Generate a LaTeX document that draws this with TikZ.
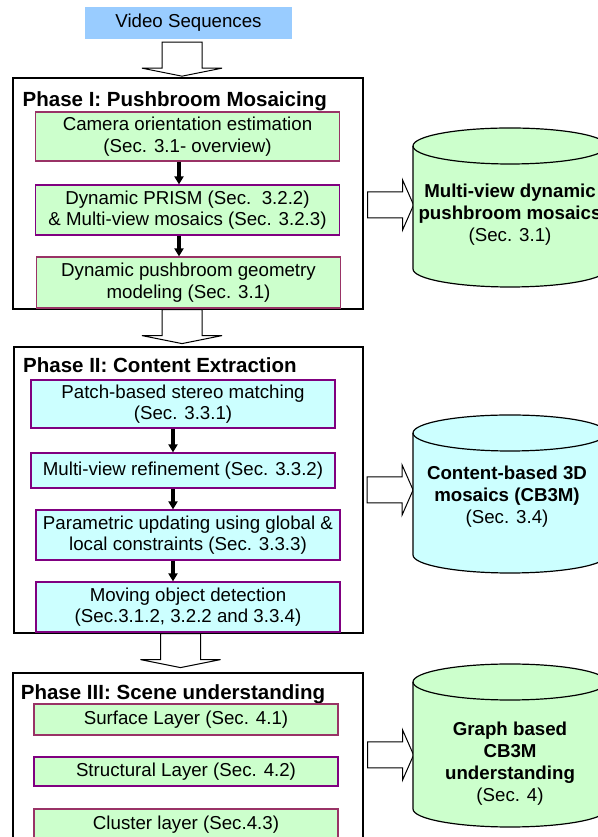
\documentclass[tikz,border=0pt]{standalone}
\usepackage{fontspec}
\setmainfont{Liberation Sans}
\usepackage{tikz}
\usetikzlibrary{arrows.meta,calc,positioning}
\definecolor{lightGreen}{HTML}{CCFFCC}
\definecolor{lightCyan}{HTML}{CCFFFF}
\definecolor{skyBlue}{HTML}{99CCFF}
\definecolor{plumEdge}{HTML}{993366}
\definecolor{purpleEdge}{HTML}{800080}

\begin{document}
\begin{tikzpicture}[x=1pt,y=1pt,
  stepbox/.style={draw, line width=1.2pt, minimum width=304pt, inner sep=0pt, align=center, font=\fontsize{18.7}{21.5}\selectfont},
  phasebox/.style={draw, line width=1.2pt, minimum width=350pt, inner sep=0pt},
  phasetitle/.style={anchor=base west, inner sep=0pt, font=\fontsize{20.5}{24}\selectfont\bfseries},
  dbtext/.style={align=center, font=\fontsize{18.7}{22}\selectfont},
  flow/.style={-{Triangle[width=9pt,length=8pt]}, line width=3.5pt},
  dnarrow/.pic={\filldraw[fill=white, line width=1pt] (-20,0) -- (-20,-26) -- (-40,-26) -- (0,-34) -- (40,-26) -- (20,-26) -- (20,0) -- cycle;},
  rtarrow/.pic={\filldraw[fill=white, line width=1pt] (0,-13) -- (35,-13) -- (35,-25) -- (46,0) -- (35,25) -- (35,13) -- (0,13) -- cycle;}]
\useasboundingbox[fill=white] (0,0) rectangle (597,837);

\node[fill=skyBlue, minimum width=207pt, minimum height=32pt, inner sep=0pt, font=\fontsize{18.7}{22}\selectfont] (video) at (188.5,814) {Video Sequences};

% Phase I
\node[phasebox, minimum height=231pt] (ph1) at (188,643.5) {};
\node[phasetitle] (t1) at (22.5,730.3) {Phase I: Pushbroom Mosaicing};
\node[stepbox, fill=lightGreen, draw=plumEdge, minimum height=49pt] (cam) at (187.5,700.5) {Camera orientation estimation\\(Sec. 3.1- overview)};
\node[stepbox, fill=lightGreen, draw=purpleEdge, minimum height=50pt] (prism) at (187.5,627) {Dynamic PRISM (Sec.~~3.2.2)\\\& Multi-view mosaics (Sec. 3.2.3)};
\node[stepbox, fill=lightGreen, draw=plumEdge, minimum height=51pt] (geom) at (188.5,554.5) {Dynamic pushbroom geometry\\modeling (Sec. 3.1)};
\draw[flow] ([xshift=-8.5pt]cam.south) -- ([xshift=-8.5pt]prism.north);
\draw[flow] ([xshift=-8.5pt]prism.south) -- ([xshift=-9.5pt]geom.north);

% Phase II
\node[phasebox, minimum width=349pt, minimum height=286pt] (ph2) at (188.5,347) {};
\node[phasetitle] (t2) at (23,464.7) {Phase II: Content Extraction};
\node[stepbox, fill=lightCyan, draw=purpleEdge, minimum height=48pt] (patch) at (183,433) {Patch-based stereo matching\\(Sec. 3.3.1)};
\node[stepbox, fill=lightCyan, draw=purpleEdge, minimum height=35pt] (refine) at (183,366.5) {Multi-view refinement (Sec. 3.3.2)};
\node[stepbox, fill=lightCyan, draw=purpleEdge, minimum height=50pt] (param) at (188,302) {Parametric updating using global \&\\local constraints (Sec. 3.3.3)};
\node[stepbox, fill=lightCyan, draw=purpleEdge, minimum height=50pt] (moving) at (188,230) {Moving object detection\\(Sec.3.1.2, 3.2.2 and 3.3.4)};
\draw[flow] ([xshift=-10pt]patch.south) -- ([xshift=-10pt]refine.north);
\draw[flow] ([xshift=-10pt]refine.south) -- ([xshift=-15pt]param.north);
\draw[flow] ([xshift=-15pt]param.south) -- ([xshift=-15pt]moving.north);

% Phase III
\node[phasebox, minimum height=174pt] (ph3) at (188,77) {};
\node[phasetitle] (t3) at (20.7,137) {Phase III: Scene understanding};
\node[stepbox, fill=lightGreen, draw=plumEdge, minimum height=31pt] (surface) at (186,117.5) {Surface Layer (Sec. 4.1)};
\node[stepbox, fill=lightGreen, draw=purpleEdge, minimum height=29pt] (struct) at (186,65.5) {Structural Layer (Sec. 4.2)};
\node[stepbox, fill=lightGreen, draw=plumEdge, minimum height=31pt] (cluster) at (186,12.5) {Cluster layer (Sec.4.3)};

% block arrows
\pic at ($(video.south)+(-6.5,-3)$) {dnarrow};
\pic at ($(ph1.south)+(-6,0)$) {dnarrow};
\pic at ($(ph2.south)+(-8,0)$) {dnarrow};
\pic at ($(ph1.east)+(4,-11.5)$) {rtarrow};
\pic at ($(ph2.east)+(3.5,0)$) {rtarrow};
\pic at ($(ph3.east)+(4,5)$) {rtarrow};

% databases
\foreach \cx/\yt/\yb/\col in {510/691/568/lightGreen, 510/404/282/lightCyan, 510/155/28/lightGreen} {
  \filldraw[fill=\col, line width=1.2pt] (\cx-97,\yt) -- (\cx-97,\yb) arc[start angle=180, end angle=360, x radius=97, y radius=18] -- (\cx+97,\yt) arc[start angle=0, end angle=180, x radius=97, y radius=18] -- cycle;
  \draw[line width=1.2pt] (\cx-97,\yt) arc[start angle=180, end angle=360, x radius=97, y radius=18];
}
\node[dbtext] (db1) at (510,622) {\textbf{Multi-view dynamic}\\\textbf{pushbroom mosaics}\\(Sec. 3.1)};
\node[dbtext] (db2) at (507,340) {\textbf{Content-based 3D}\\\textbf{mosaics (CB3M)}\\(Sec. 3.4)};
\node[dbtext] (db3) at (510,73) {\textbf{Graph based}\\\textbf{CB3M}\\\textbf{understanding}\\(Sec. 4)};
\end{tikzpicture}
\end{document}
